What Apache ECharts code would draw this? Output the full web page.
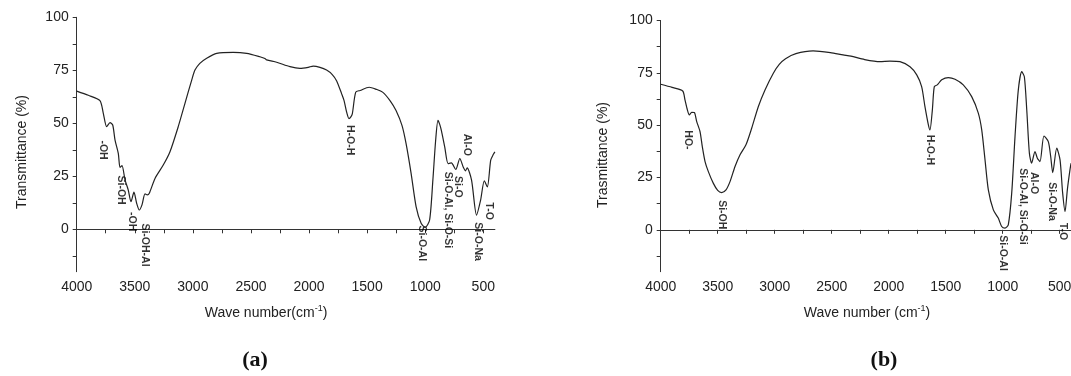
<!DOCTYPE html>
<html><head><meta charset="utf-8">
<script src="https://cdn.jsdelivr.net/npm/echarts@6/dist/echarts.min.js"></script>
<style>html,body{margin:0;padding:0;background:#fff}#c{width:1071px;height:376px}</style>
</head><body><div id="c"></div>
<script>
// Panel (a) spectrum
const waveA = [4000,3900,3800,3771,3742,3713,3690,3670,3642,3627,3610,3584,3556,3533,3507,3484,3461,3438,3412,3392,3375,3326,3255,3197,3126,3068,3010,2982,2940,2881,2795,2652,2537,2423,2380,2365,2279,2164,2078,2007,1964,1906,1849,1800,1762,1720,1699,1675,1656,1640,1627,1598,1560,1483,1420,1367,1300,1251,1200,1165,1121,1078,1035,1000,962,934,910,890,875,861,832,803,775,737,702,673,653,639,601,558,523,491,465,436,413,400];
const transA = [65.2,63.2,60.7,54.7,48.4,50.3,49.2,42.1,35.8,29.2,30,23.3,18.5,13,17.5,12.3,9.1,11.5,16.7,16.2,17,24,30.3,36.6,48.4,59.4,70.4,75.1,78.3,80.7,83,83.5,83,81.4,80.6,79.9,78.8,76.7,75.9,76.4,77,76.4,75.1,73,70,64,60.8,55,52.2,53,54.6,64.7,65.5,67,66,64.7,60.5,56,49,40.5,26.3,10.6,2.8,0.9,4.4,23.2,42,51.4,49.5,46.7,38.9,31,31.3,28.2,33.4,29.4,27.6,29,23.2,6.7,13.8,22.9,20,32.6,35.4,36.5];
// Panel (b) spectrum
const waveB = [4000,3900,3807,3787,3766,3749,3728,3705,3684,3655,3635,3611,3582,3539,3500,3465,3427,3392,3348,3304,3252,3202,3144,3085,3012,2960,2905,2814,2663,2512,2400,2331,2211,2077,1989,1901,1813,1754,1711,1682,1652,1638,1617,1600,1574,1535,1477,1418,1346,1272,1214,1184,1155,1126,1082,1039,1009,980,951,921,892,863,833,810,789,766,746,717,696,673,638,600,579,561,526,497,474,453,433,410,400];
const transB = [69.5,68,66.3,62,57.3,54.9,56.1,56,51.7,46.9,39.7,32.6,27.8,22.3,18.8,17.8,19.1,23,30.2,35.8,40.6,48.5,58.8,66.8,74.8,79,81.7,84.1,85.4,84.6,83.5,82.9,81.3,80.3,80.6,80.3,77.9,74,68.4,58.8,50.1,47.7,57.3,68.4,69.2,71.6,72.7,71.9,69.2,63.6,55.7,47.7,33.4,19.1,9.5,5.6,1.6,0.8,2.4,17.5,44.5,66.8,75.5,73.1,57.3,36.6,31.8,37.4,34.2,32.6,44.8,42.1,35,27.3,39,33.4,17.5,8.7,19.1,28.6,31.8];
// Band annotations
const bandTextA = ['-OH','Si-OH','-OH','Si-OH-Al','H-O-H','Si-O-Al','Si-O','Si-O-Al, Si-O-Si','Al-O','Si-O-Na','T-O'];
const bandWaveA = [3776,3621,3527,3412,1648,1031,716,802,644,544,452];
const bandTransA = [37.4,18.5,3.6,-7.4,42.1,-6.6,20,9.1,39.8,-5.8,8.6];
const bandTextB = ['HO-','Si-OH','H-O-H','Si-O-Al','Si-O-Al, Si-O-Si','Al-O','Si-O-Na','T-O'];
const bandWaveB = [3758,3465,1638,1000,819,723,570,474];
const bandTransB = [42.9,7.2,38.2,-11.1,11.1,22.3,13.5,-0.8];
// Axis ticks
const xLabelValues = [4000,3500,3000,2500,2000,1500,1000,500];
const xTickValues = [4000,3750,3500,3250,3000,2750,2500,2250,2000,1750,1500,1250,1000,750,500];
const yLabelValues = [0,25,50,75,100];
const yTickValues = [-12.5,0,12.5,25,37.5,50,62.5,75,87.5,100];

const FONT = 'Liberation Sans, Arial, sans-serif';
const axisColor = '#333';
function xAx(i){
  return {type:'value', gridIndex:i, min:400, max:4000, inverse:true,
    axisLine:{show:true, lineStyle:{color:axisColor, width:1}},
    axisTick:{show:true, customValues:xTickValues, length:4, lineStyle:{color:axisColor}},
    axisLabel:{customValues:xLabelValues, formatter:v=>String(v), fontSize:14, color:'#222', fontFamily:FONT, margin:8},
    splitLine:{show:false}};
}
function yAx(i){
  return {type:'value', gridIndex:i, min:-20, max:100,
    axisLine:{show:true, lineStyle:{color:axisColor, width:1}},
    axisTick:{show:true, customValues:yTickValues, length:4, lineStyle:{color:axisColor}},
    axisLabel:{customValues:yLabelValues, formatter:v=>String(v), fontSize:14, color:'#222', fontFamily:FONT, margin:8},
    splitLine:{show:false}};
}
function lineSeries(i, w, t){
  return {type:'line', xAxisIndex:i, yAxisIndex:i, data:w.map((x,k)=>[x,t[k]]),
    showSymbol:false, smooth:0.25, lineStyle:{color:'#222', width:1.2}, silent:true, clip:false};
}
function bandSeries(i, txt, w, t){
  return {type:'scatter', xAxisIndex:i, yAxisIndex:i, symbolSize:1, itemStyle:{color:'rgba(0,0,0,0)'},
    silent:true,
    data:txt.map((s,k)=>({name:s, value:[w[k],t[k]]})),
    label:{show:true, position:'inside', rotate:-90, formatter:p=>p.name, fontSize:10.5, fontWeight:'bold',
      color:'#000', fontFamily:FONT}};
}
const chart = echarts.init(document.getElementById('c'), null, {renderer:'canvas'});
chart.setOption({
  animation:false,
  backgroundColor:'#fff',
  grid:[
    {left:76.7, width:418.2, top:17.3, bottom:104.3, outerBoundsMode:'none', containLabel:false},
    {left:660.7, width:410.4, top:20.4, bottom:104.3, outerBoundsMode:'none', containLabel:false}
  ],
  xAxis:[xAx(0), xAx(1)],
  yAxis:[yAx(0), yAx(1)],
  series:[
    lineSeries(0, waveA, transA),
    lineSeries(1, waveB, transB),
    bandSeries(0, bandTextA, bandWaveA, bandTransA),
    bandSeries(1, bandTextB, bandWaveB, bandTransB)
  ],
  graphic:[
    {type:'text', x:22, y:152, rotation:Math.PI/2, style:{text:'Transmittance (%)', fontSize:14, fontFamily:FONT, fill:'#222', align:'center', verticalAlign:'middle'}},
    {type:'text', x:603, y:155, rotation:Math.PI/2, style:{text:'Trasmittance (%)', fontSize:14, fontFamily:FONT, fill:'#222', align:'center', verticalAlign:'middle'}},
    {type:'text', x:266, y:313, style:{text:'Wave number(cm{s|-1})', fontSize:14, fontFamily:FONT, fill:'#222', align:'center', verticalAlign:'middle',
      rich:{s:{fontSize:9, fontFamily:FONT, fill:'#222', verticalAlign:'top', padding:[0,0,8,0]}}}},
    {type:'text', x:867, y:313, style:{text:'Wave number (cm{s|-1})', fontSize:14, fontFamily:FONT, fill:'#222', align:'center', verticalAlign:'middle',
      rich:{s:{fontSize:9, fontFamily:FONT, fill:'#222', verticalAlign:'top', padding:[0,0,8,0]}}}},
    {type:'text', x:255, y:360, style:{text:'(a)', fontSize:22, fontWeight:'bold', fontFamily:'Liberation Serif, Times New Roman, serif', fill:'#111', align:'center', verticalAlign:'middle'}},
    {type:'text', x:884, y:360, style:{text:'(b)', fontSize:22, fontWeight:'bold', fontFamily:'Liberation Serif, Times New Roman, serif', fill:'#111', align:'center', verticalAlign:'middle'}}
  ]
});
</script></body></html>
